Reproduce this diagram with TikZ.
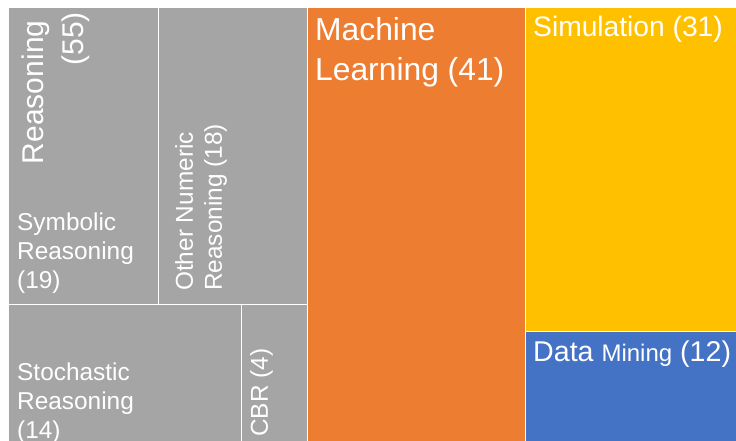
\documentclass[tikz,border=0pt]{standalone}
\usepackage{fontspec}
\setmainfont{Liberation Sans}
\usetikzlibrary{positioning}
\definecolor{Gray}{HTML}{A5A5A5}
\definecolor{Orange}{HTML}{ED7D31}
\definecolor{Gold}{HTML}{FFC000}
\definecolor{Blue}{HTML}{4472C4}

\begin{document}
\begin{tikzpicture}[
        %Environment Cfg.
        x=1pt, y=-1pt,
        %Environment Styles.
        tile/.style={
            rectangle,
            inner sep=0pt,
            outer sep=0pt,
            anchor=north west,
            fill=#1
        },
        tText/.style={
            inner sep=0pt,
            text=white,
            align=left
        },
        big/.style={font=\fontsize{31.8}{40}\selectfont},
        mid/.style={font=\fontsize{28.2}{33}\selectfont},
        small/.style={font=\fontsize{24.4}{29}\selectfont},
    ]
    %Tile: \Tile[name][colour]{top-left}{width}{height}
    \def\Tile[#1][#2]#3#4#5{
        \node[tile=#2, minimum width=#4pt, minimum height=#5pt](#1) at (#3){};
    }

    \path[use as bounding box, fill=white] (0,0) rectangle (736,441);

    %Reasoning block.
    \Tile[SYM][Gray]{9,8}{149}{296}
    \Tile[ONR][Gray]{159,8}{148}{296}
    \Tile[STO][Gray]{9,305}{232}{136}
    \Tile[CBR][Gray]{242,305}{65}{136}
    %Other blocks.
    \Tile[ML][Orange]{308,8}{217}{433}
    \Tile[SIM][Gold]{526,8}{210}{323}
    \Tile[DM][Blue]{526,332}{210}{109}

    %Labels.
    \node[tText, font=\fontsize{30}{40}\selectfont, rotate=90, anchor=north east, align=right](REA-T) at (22,12)
        {Reasoning\kern.28em\\(55)};
    \node[tText, small, below right=205pt and 8pt of SYM.north west](SYM-T)
        {Symbolic\\Reasoning\\(19)};
    \node[tText, small, rotate=90, anchor=north west](ONR-T) at (175,291)
        {Other Numeric\\Reasoning (18)};
    \node[tText, small, below right=58pt and 8pt of STO.north west](STO-T)
        {Stochastic\\Reasoning\\(14)};
    \node[tText, small, rotate=90, anchor=north west](CBR-T) at (250,437)
        {CBR (4)};
    \node[tText, big, below right=9pt and 7pt of ML.north west](ML-T)
        {Machine\\Learning (41)};
    \node[tText, mid, below right=8pt and 7pt of SIM.north west](SIM-T)
        {Simulation (31)};
    \node[tText, font=\fontsize{28.6}{33}\selectfont, below right=9pt and 7pt of DM.north west](DM-T)
        {Data {\fontsize{24}{29}\selectfont Mining} (12)};

\end{tikzpicture}
\end{document}
